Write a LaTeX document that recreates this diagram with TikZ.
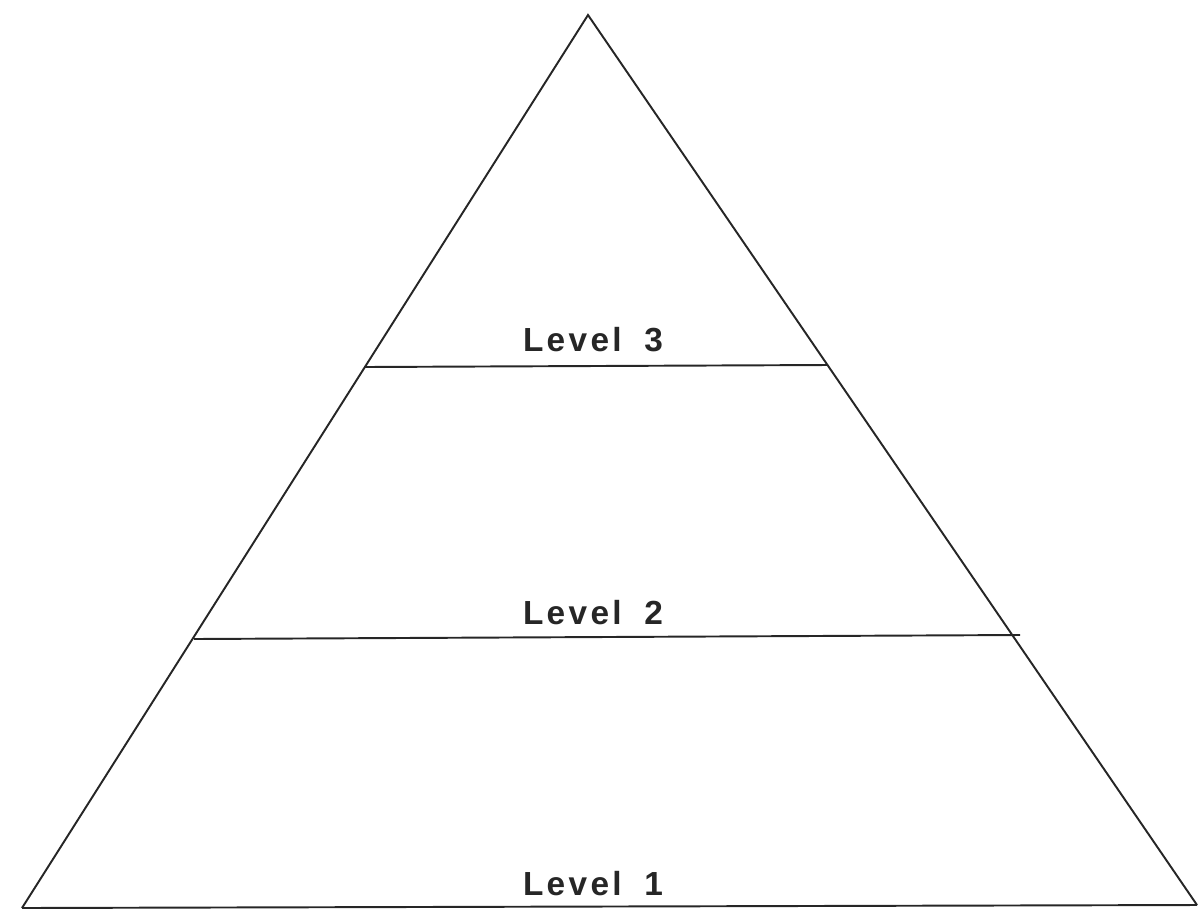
\documentclass[tikz,border=0pt]{standalone}
\usepackage{fontspec}
\newfontfamily\levelfont[LetterSpace=10,WordSpace=1.8]{Liberation Sans}
\usetikzlibrary{positioning}

\begin{document}
\begin{tikzpicture}[
    x=0.02cm,y=-0.02cm,
    edge/.style={line width=1.1pt, black!85},
    tier/.style={font=\levelfont\bfseries\fontsize{19}{22}\selectfont, text=black!85, inner sep=0pt}
  ]
    \useasboundingbox (0,0) rectangle (1200,910);

    \coordinate (apex) at (588,15);
    \coordinate (bl) at (22,908);
    \coordinate (br) at (1197,905);
    \coordinate (l3a) at (365,367);
    \coordinate (l3b) at (828,365);
    \coordinate (l2a) at (194,639);
    \coordinate (l2b) at (1020,635);

    \draw[edge, line join=miter] (bl) -- (apex) -- (br);
    \draw[edge] (bl) -- (br);
    \draw[edge] (l3a) -- (l3b);
    \draw[edge] (l2a) -- (l2b);

    \node[tier] (lev3) at (593,340) {Level 3};
    \node[tier] (lev2) at (593,613) {Level 2};
    \node[tier] (lev1) at (593,884) {Level 1};
  \end{tikzpicture}
\end{document}
